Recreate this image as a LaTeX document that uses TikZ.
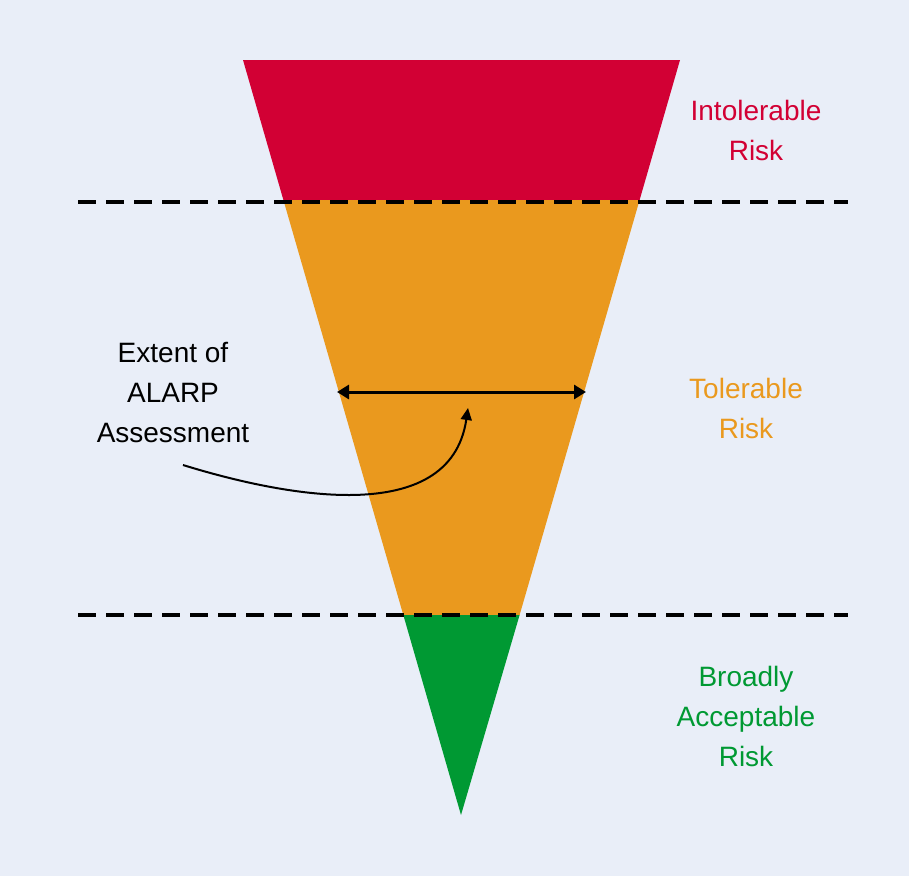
\documentclass[tikz,border=0pt]{standalone}
\usepackage{fontspec}
\setmainfont{Liberation Sans}
\usetikzlibrary{arrows.meta}
\definecolor{bg}{HTML}{E9EEF8}
\definecolor{rred}{HTML}{D20034}
\definecolor{rorange}{HTML}{EA991E}
\definecolor{rgreen}{HTML}{009933}
\tikzset{
  lbl/.style={align=center,font=\fontsize{28}{40}\selectfont},
  dashline/.style={line width=4pt,dash pattern=on 18pt off 10pt},
}
\begin{document}
\begin{tikzpicture}[x=1pt,y=-1pt]
\fill[bg] (0,0) rectangle (909,876);
\useasboundingbox (0,0) rectangle (909,876);
\fill[rred] (243,60) -- (680,60) -- (639.6,200) -- (283.4,200) -- cycle;
\fill[rorange] (283.4,200) -- (639.6,200) -- (519.6,615) -- (403.3,615) -- cycle;
\fill[rgreen] (403.3,615) -- (519.6,615) -- (461,815) -- cycle;
\coordinate (d1a) at (78,202); \coordinate (d1b) at (848,202);
\coordinate (d2a) at (78,615); \coordinate (d2b) at (848,615);
\draw[dashline] (d1a) -- (d1b);
\draw[dashline] (d2a) -- (d2b);
\coordinate (al) at (337,392); \coordinate (ar) at (586,392);
\draw[line width=3pt,{Triangle[length=12pt,width=14pt]}-{Triangle[length=12pt,width=14pt]}] (al) -- (ar);
\node[lbl,text=rred] (intol) at (756,130) {Intolerable\\Risk};
\node[lbl,text=rorange] (tol) at (746,408) {Tolerable\\Risk};
\node[lbl,text=rgreen] (broad) at (746,716) {Broadly\\Acceptable\\Risk};
\node[lbl] (ext) at (173,392) {Extent of\\ALARP\\Assessment};
\coordinate (cs) at (183,465); \coordinate (ce) at (468,408);
\draw[line width=2pt,-{Triangle[length=12pt,width=11pt]}] (cs) .. controls (280,495) and (450,530) .. (ce);
\end{tikzpicture}
\end{document}
